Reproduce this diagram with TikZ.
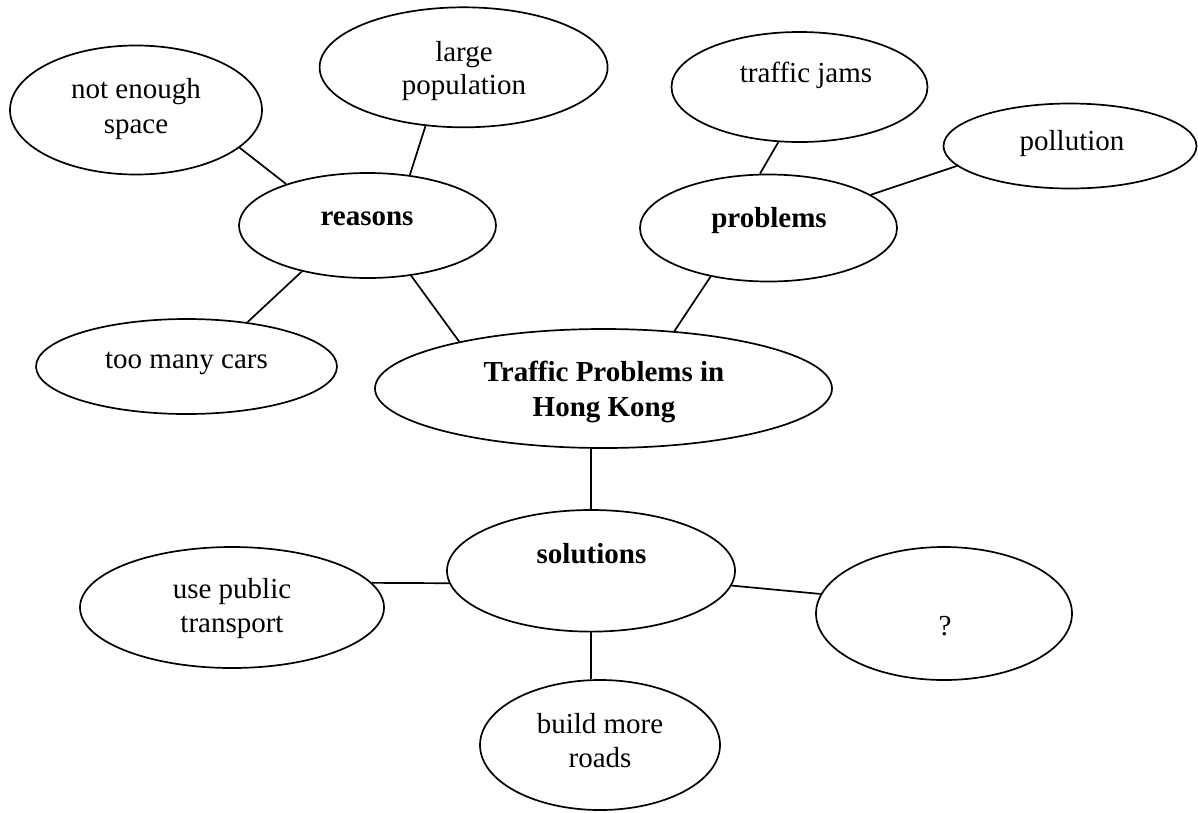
\documentclass[tikz,border=0pt]{standalone}
\usepackage{fontspec}
\setmainfont{Liberation Serif}
\usetikzlibrary{shapes.geometric}
\tikzset{
  bubble/.style={draw, ellipse, line width=1.7pt, inner sep=0pt, fill=white},
  lbl/.style={anchor=base, inner sep=0pt, font=\fontsize{29}{34.5}\selectfont},
  blbl/.style={anchor=base, inner sep=0pt, font=\fontsize{29}{34.5}\selectfont\bfseries},
  link/.style={line width=1.7pt},
}
\begin{document}
\begin{tikzpicture}[x=1pt,y=-1pt]
\useasboundingbox (0,0) rectangle (1198,812);
% bubbles
\node[bubble, minimum width=252pt, minimum height=129pt] (space) at (136,110) {};
\node[bubble, minimum width=288pt, minimum height=120pt] (population) at (463.6,67.3) {};
\node[bubble, minimum width=256pt, minimum height=110pt] (jams) at (799.5,87) {};
\node[bubble, minimum width=253pt, minimum height=85pt] (pollution) at (1070,146) {};
\node[bubble, minimum width=257pt, minimum height=105pt] (reasons) at (367.5,225.5) {};
\node[bubble, minimum width=257pt, minimum height=107pt] (problems) at (768.5,228) {};
\node[bubble, minimum width=301pt, minimum height=95pt] (cars) at (186.5,366.5) {};
\node[bubble, minimum width=457pt, minimum height=119pt] (topic) at (603.5,388.5) {};
\node[bubble, minimum width=288pt, minimum height=121.6pt] (solutions) at (591,570.8) {};
\node[bubble, minimum width=304pt, minimum height=121pt] (public) at (232,607.5) {};
\node[bubble, minimum width=256pt, minimum height=133pt] (unknown) at (944,613.5) {};
\node[bubble, minimum width=240pt, minimum height=130pt] (roads) at (600,745) {};
% texts
\node[lbl] (space-a) at (136,98) {not enough};
\node[lbl] (space-b) at (136,133) {space};
\node[lbl] (population-a) at (464,61) {large};
\node[lbl] (population-b) at (464,94) {population};
\node[lbl] (jams-a) at (806,82) {traffic jams};
\node[lbl] (pollution-a) at (1072,150) {pollution};
\node[blbl] (reasons-a) at (367,225) {reasons};
\node[blbl] (problems-a) at (769,227) {problems};
\node[lbl] (cars-a) at (186.5,368) {too many cars};
\node[blbl] (topic-a) at (604,381) {Traffic Problems in};
\node[blbl] (topic-b) at (604,416) {Hong Kong};
\node[blbl] (solutions-a) at (591.5,563) {solutions};
\node[lbl] (public-a) at (232,598) {use public};
\node[lbl] (public-b) at (232,632) {transport};
\node[lbl] (unknown-a) at (945,635) {?};
\node[lbl] (roads-a) at (600,733) {build more};
\node[lbl] (roads-b) at (600,767) {roads};
% connectors
\draw[link] (space.-20.9) -- (reasons.153);
\draw[link] (population.-123.6) -- (reasons.50.7);
\draw[link] (reasons.-145.4) -- (cars.36.3);
\draw[link] (reasons.-49.3) -- (topic.162.3);
\draw[link] (jams.-111.6) -- (problems.99.1);
\draw[link] (problems.18.5) -- (pollution.-170);
\draw[link] (problems.-140.3) -- (topic.39.2);
\draw[link] (topic.south -| solutions.north) -- (solutions.north);
\draw[link] (public.10.14) -- (solutions.-175.2);
\draw[link] (solutions.-6.4) -- (unknown.171.9);
\draw[link] (solutions.south) -- (solutions.south |- roads.north);
\end{tikzpicture}
\end{document}
